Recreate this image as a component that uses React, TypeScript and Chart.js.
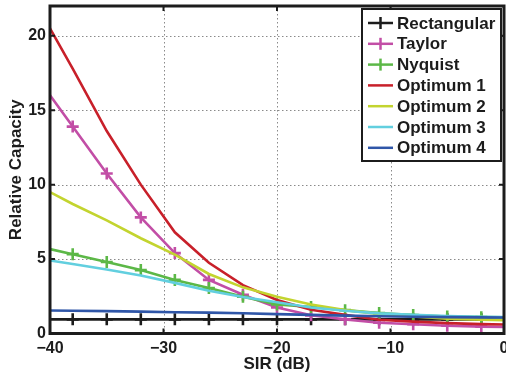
import React, { useEffect, useRef } from "react";
import { Chart, registerables } from "chart.js";

Chart.register(...registerables);

// SIR (dB) sample positions
const sirValues = [-40, -38, -35, -32, -29, -26, -23, -20, -17, -14, -11, -8, -5, -2, 0];

const rectangular = [0.95, 0.95, 0.95, 0.95, 0.95, 0.95, 0.95, 0.95, 0.95, 0.95, 0.95, 0.95, 0.95, 0.95, 0.95];
const taylor = [16.0, 13.9, 10.75, 7.8, 5.4, 3.6, 2.6, 1.75, 1.22, 0.95, 0.72, 0.62, 0.52, 0.46, 0.44];
const nyquist = [5.67, 5.33, 4.8, 4.26, 3.6, 3.05, 2.47, 1.95, 1.78, 1.57, 1.37, 1.24, 1.14, 1.1, 1.08];
const optimum1 = [20.5, 17.8, 13.6, 10.0, 6.8, 4.75, 3.25, 2.25, 1.6, 1.25, 0.92, 0.8, 0.7, 0.63, 0.6];
const optimum2 = [9.5, 8.7, 7.6, 6.4, 5.3, 4.0, 3.1, 2.47, 1.95, 1.57, 1.32, 1.15, 1.0, 0.93, 0.9];
const optimum3 = [4.9, 4.67, 4.3, 3.9, 3.4, 2.87, 2.45, 2.1, 1.75, 1.53, 1.35, 1.26, 1.17, 1.13, 1.1];
const optimum4 = [1.55, 1.53, 1.5, 1.47, 1.43, 1.4, 1.36, 1.3, 1.25, 1.2, 1.16, 1.13, 1.1, 1.08, 1.07];

const seriesNames = ["Rectangular", "Taylor", "Nyquist", "Optimum 1", "Optimum 2", "Optimum 3", "Optimum 4"];
const seriesValues = [rectangular, taylor, nyquist, optimum1, optimum2, optimum3, optimum4];
const seriesColors = ["#1c1c1c", "#c24ea6", "#5cb847", "#c8202a", "#c3d42f", "#62cfdf", "#2f56a8"];
const seriesMarkers = [true, true, true, false, false, false, false];

const xTicks = [-40, -30, -20, -10, 0];
const yTicks = [0, 5, 10, 15, 20];
const xLabel = "SIR (dB)";
const yLabel = "Relative Capacity";

const FONT = '"Liberation Sans", Arial, Helvetica, sans-serif';
const INK = "#1c1c1c";

const matlabPlugin = {
  id: "matlabFrame",
  beforeDatasetsDraw(chart: any) {
    const { ctx, chartArea: a, scales } = chart;
    ctx.save();
    ctx.strokeStyle = "#8a8a8a";
    ctx.lineWidth = 1;
    ctx.setLineDash([1.5, 2.5]);
    for (const v of xTicks) {
      const px = Math.round(scales.x.getPixelForValue(v)) + 0.5;
      if (px <= a.left + 2 || px >= a.right - 2) continue;
      ctx.beginPath();
      ctx.moveTo(px, a.top);
      ctx.lineTo(px, a.bottom);
      ctx.stroke();
    }
    for (const v of yTicks) {
      const py = Math.round(scales.y.getPixelForValue(v)) + 0.5;
      if (py <= a.top + 2 || py >= a.bottom - 2) continue;
      ctx.beginPath();
      ctx.moveTo(a.left, py);
      ctx.lineTo(a.right, py);
      ctx.stroke();
    }
    ctx.restore();
  },
  afterDraw(chart: any) {
    const { ctx, chartArea: a, scales } = chart;
    ctx.save();
    // inward tick marks
    ctx.strokeStyle = INK;
    ctx.lineWidth = 2;
    const tl = 5;
    for (const v of xTicks) {
      const px = scales.x.getPixelForValue(v);
      ctx.beginPath();
      ctx.moveTo(px, a.bottom);
      ctx.lineTo(px, a.bottom - tl);
      ctx.moveTo(px, a.top);
      ctx.lineTo(px, a.top + tl);
      ctx.stroke();
    }
    for (const v of yTicks) {
      const py = scales.y.getPixelForValue(v);
      ctx.beginPath();
      ctx.moveTo(a.left, py);
      ctx.lineTo(a.left + tl, py);
      ctx.moveTo(a.right, py);
      ctx.lineTo(a.right - tl, py);
      ctx.stroke();
    }
    // frame
    ctx.lineWidth = 3;
    ctx.strokeRect(a.left, a.top, a.right - a.left, a.bottom - a.top);

    // legend
    const bw = 139;
    const bh = 152;
    const bx = a.right - 3 - bw;
    const by = a.top + 3;
    ctx.fillStyle = "#ffffff";
    ctx.fillRect(bx, by, bw, bh);
    ctx.lineWidth = 2;
    ctx.strokeStyle = INK;
    ctx.strokeRect(bx, by, bw, bh);
    ctx.font = `bold 17px ${FONT}`;
    ctx.textBaseline = "middle";
    ctx.textAlign = "left";
    seriesNames.forEach((name, i) => {
      const ry = by + 14 + i * 20.8;
      const x0 = bx + 6;
      const x1 = bx + 31;
      ctx.strokeStyle = seriesColors[i];
      ctx.lineWidth = 2.5;
      ctx.beginPath();
      ctx.moveTo(x0, ry);
      ctx.lineTo(x1, ry);
      ctx.stroke();
      if (seriesMarkers[i]) {
        const cx = (x0 + x1) / 2;
        ctx.beginPath();
        ctx.moveTo(cx, ry - 6);
        ctx.lineTo(cx, ry + 6);
        ctx.stroke();
      }
      ctx.fillStyle = INK;
      ctx.fillText(name, bx + 35, ry + 1);
    });
    ctx.restore();
  },
};

export default function App() {
  const canvasRef = useRef<HTMLCanvasElement | null>(null);

  useEffect(() => {
    const canvas = canvasRef.current;
    if (!canvas) return;
    const datasets = seriesNames.map((name, i) => ({
      label: name,
      data: sirValues.map((x, j) => ({ x, y: seriesValues[i][j] })),
      borderColor: seriesColors[i],
      backgroundColor: seriesColors[i],
      borderWidth: 2.6,
      tension: 0,
      fill: false,
      pointStyle: "cross",
      pointRadius: sirValues.map((_, j) =>
        seriesMarkers[i] && j > 0 && j < sirValues.length - 1 ? 6 : 0
      ),
      pointBorderColor: seriesColors[i],
      pointBorderWidth: 2.6,
      pointHoverRadius: 0,
      order: seriesNames.length - i,
    }));

    const chart = new Chart(canvas, {
      type: "line",
      data: { datasets },
      options: {
        animation: false,
        responsive: false,
        devicePixelRatio: 1,
        layout: { padding: { top: 6, right: 2, left: 0, bottom: 0 } },
        plugins: {
          legend: { display: false },
          tooltip: { enabled: false },
        },
        scales: {
          x: {
            type: "linear",
            min: -40,
            max: 0,
            grid: { display: false, drawTicks: false },
            border: { display: false },
            ticks: {
              stepSize: 10,
              includeBounds: false,
              autoSkip: false,
              maxRotation: 0,
              padding: 5,
              color: INK,
              font: { family: FONT, size: 16, weight: "bold" },
              callback: (v: any) => String(v).replace("-", "\u2212"),
            },
            title: {
              display: true,
              text: xLabel,
              color: INK,
              font: { family: FONT, size: 17, weight: "bold" },
              padding: { top: 0, bottom: 0 },
            },
            afterFit: (s: any) => {
              s.height = 41.5;
              s.paddingLeft = 0;
              s.paddingRight = 0;
            },
          },
          y: {
            type: "linear",
            min: 0,
            max: 22,
            grid: { display: false, drawTicks: false },
            border: { display: false },
            ticks: {
              stepSize: 5,
              includeBounds: false,
              autoSkip: false,
              padding: 4,
              color: INK,
              font: { family: FONT, size: 16, weight: "bold" },
            },
            title: {
              display: true,
              text: yLabel,
              color: INK,
              font: { family: FONT, size: 17, weight: "bold" },
              padding: { top: 6, bottom: 0 },
            },
            afterFit: (s: any) => {
              s.width = 50;
              s.paddingTop = 0;
              s.paddingBottom = 0;
            },
          },
        },
      },
      plugins: [matlabPlugin],
    } as any);

    return () => chart.destroy();
  }, []);

  return (
    <div style={{ position: "fixed", left: 0, top: 0, width: 506, height: 375, background: "#fff" }}>
      <canvas ref={canvasRef} width={506} height={375} style={{ display: "block" }} />
    </div>
  );
}
